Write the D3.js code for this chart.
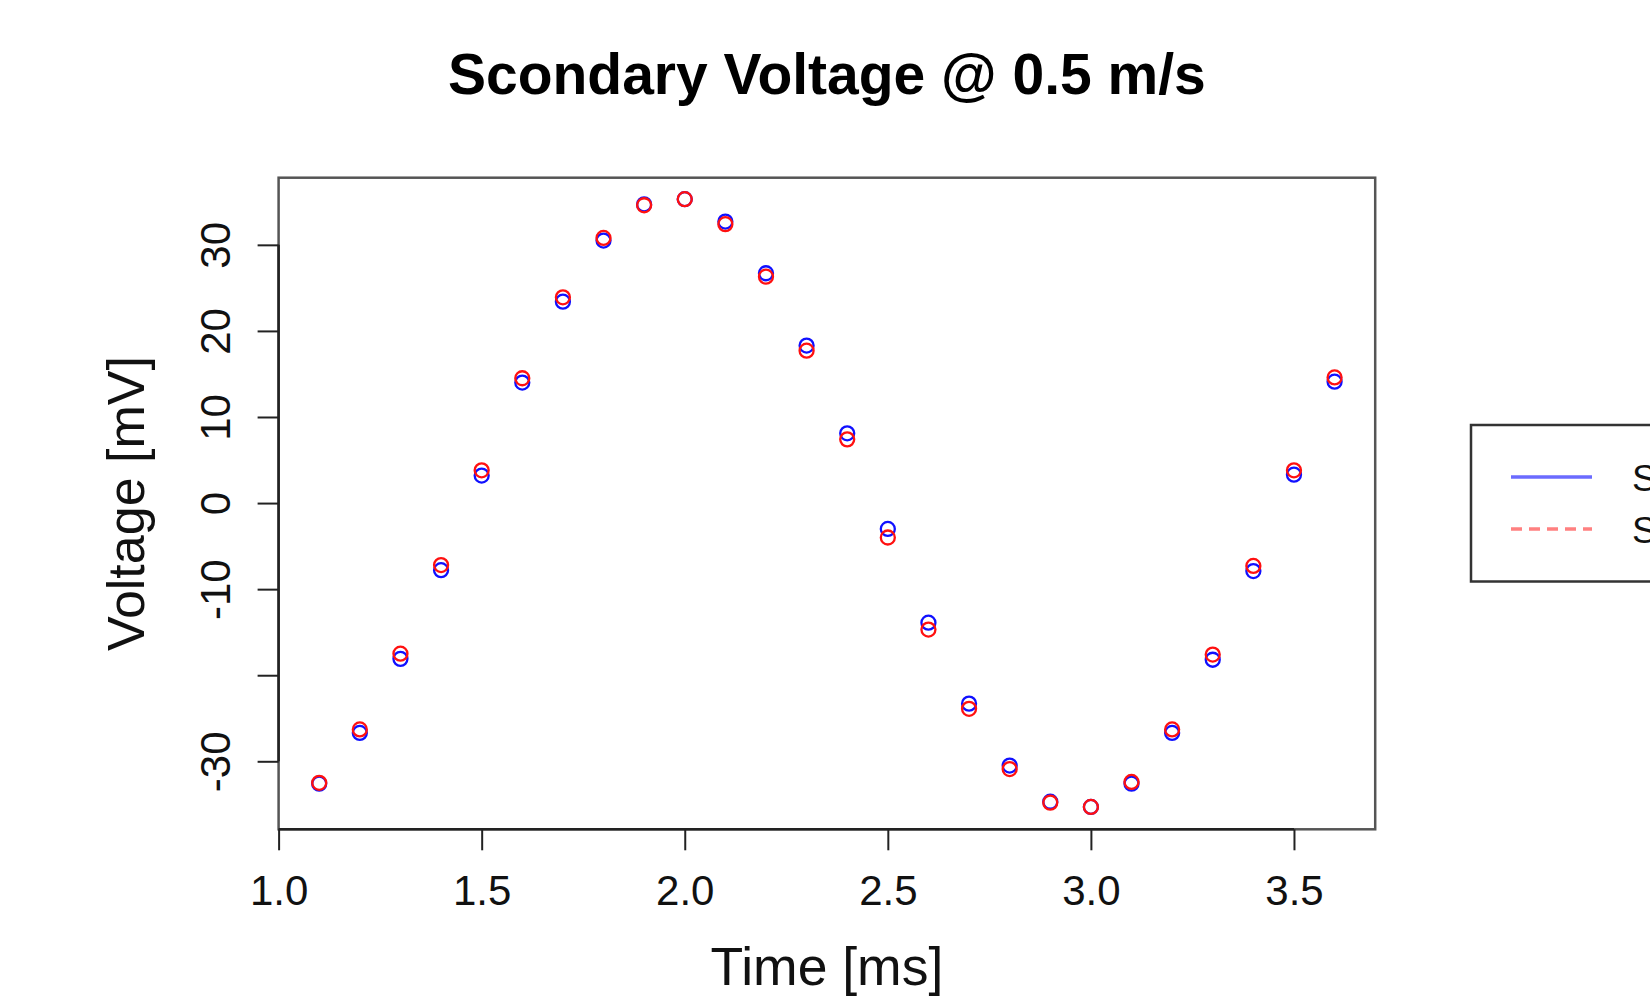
<!DOCTYPE html>
<html>
<head>
<meta charset="utf-8">
<script src="https://cdn.jsdelivr.net/npm/d3@7/dist/d3.min.js"></script>
<style>
  html, body { margin: 0; padding: 0; background: #fff; overflow: hidden; }
  svg { display: block; font-family: "Liberation Sans", Arial, Helvetica, sans-serif; }
</style>
</head>
<body>
<div id="chart"></div>
<script>
// Time axis (ms)
const times = [1.1, 1.2, 1.3, 1.4, 1.5, 1.6, 1.7, 1.8, 1.9, 2.0, 2.1, 2.2, 2.3,
               2.4, 2.5, 2.6, 2.7, 2.8, 2.9, 3.0, 3.1, 3.2, 3.3, 3.4, 3.5, 3.6];

// Voltage series (mV)
const blueSeries = [-32.6, -26.7, -18.1, -7.8, 3.2, 14.0, 23.4, 30.5, 34.7, 35.3, 32.7, 26.7, 18.3,
                    8.1, -3.0, -13.9, -23.3, -30.5, -34.7, -35.3, -32.6, -26.7, -18.2, -7.9, 3.3, 14.1];
const redSeries  = [-32.5, -26.3, -17.5, -7.2, 3.8, 14.5, 23.9, 30.8, 34.6, 35.3, 32.4, 26.3, 17.7,
                    7.4, -4.0, -14.7, -23.9, -30.9, -34.8, -35.3, -32.4, -26.3, -17.6, -7.3, 3.8, 14.6];

// Axis ticks
const xTicks = [1.0, 1.5, 2.0, 2.5, 3.0, 3.5];
const yTicks = [-30, -20, -10, 0, 10, 20, 30];
const yTickLabels = ['-30', '', '-10', '0', '10', '20', '30'];
const xDomain = [1.0, 3.7];
const yDomain = [-37.9, 37.8];

// Legend entries (text runs off the right edge in the original)
const legendLabels = ['Simulated', 'Sensor'];

const width = 1650, height = 998;
const plot = {left: 278.6, right: 1375.2, top: 177.7, bottom: 829.3};

const svg = d3.select('#chart')
    .append('svg')
    .attr('width', width)
    .attr('height', height);

const x = d3.scaleLinear().domain(xDomain).range([plot.left, plot.right]);
const y = d3.scaleLinear().domain(yDomain).range([plot.bottom, plot.top]);

// Title
svg.append('text')
    .attr('x', (plot.left + plot.right) / 2)
    .attr('y', 94)
    .attr('text-anchor', 'middle')
    .attr('font-size', 57)
    .attr('font-weight', 'bold')
    .text('Scondary Voltage @ 0.5 m/s');

// Plot box
svg.append('rect')
    .attr('x', plot.left)
    .attr('y', plot.top)
    .attr('width', plot.right - plot.left)
    .attr('height', plot.bottom - plot.top)
    .attr('fill', 'none')
    .attr('stroke', '#555')
    .attr('stroke-width', 2.5);

// X axis
const xAxis = svg.append('g')
    .attr('transform', `translate(0,${plot.bottom})`)
    .call(d3.axisBottom(x).tickValues(xTicks).tickFormat(d3.format('.1f')).tickSize(21));
xAxis.select('.domain').remove();
xAxis.selectAll('.tick line').attr('stroke', '#222').attr('stroke-width', 2);
xAxis.selectAll('.tick text')
    .attr('y', 76).attr('dy', null)
    .attr('font-size', 42)
    .attr('font-family', '"Liberation Sans", Arial, sans-serif')
    .attr('fill', '#111');
xAxis.append('line')
    .attr('x1', x(xTicks[0])).attr('x2', x(xTicks[xTicks.length - 1]))
    .attr('y1', 0).attr('y2', 0)
    .attr('stroke', '#222').attr('stroke-width', 2.5);

// Y axis
const yAxis = svg.append('g')
    .attr('transform', `translate(${plot.left},0)`)
    .call(d3.axisLeft(y).tickValues(yTicks).tickFormat((d, i) => yTickLabels[i]).tickSize(21));
yAxis.select('.domain').remove();
yAxis.selectAll('.tick line').attr('stroke', '#222').attr('stroke-width', 2);
yAxis.selectAll('.tick text')
    .attr('x', null).attr('dy', null)
    .attr('transform', 'translate(-48.5,0) rotate(-90)')
    .attr('text-anchor', 'middle')
    .attr('font-size', 42)
    .attr('font-family', '"Liberation Sans", Arial, sans-serif')
    .attr('fill', '#111');
yAxis.append('line')
    .attr('y1', y(yTicks[0])).attr('y2', y(yTicks[yTicks.length - 1]))
    .attr('x1', 0).attr('x2', 0)
    .attr('stroke', '#222').attr('stroke-width', 2.5);

// Axis titles
svg.append('text')
    .attr('x', (plot.left + plot.right) / 2)
    .attr('y', 985)
    .attr('text-anchor', 'middle')
    .attr('font-size', 53.5)
    .attr('fill', '#111')
    .text('Time [ms]');

svg.append('text')
    .attr('transform', `translate(144,${(plot.top + plot.bottom) / 2}) rotate(-90)`)
    .attr('text-anchor', 'middle')
    .attr('font-size', 52)
    .attr('fill', '#111')
    .text('Voltage [mV]');

// Points: blue first, red on top
function drawPoints(values, color) {
    svg.append('g')
        .selectAll('circle')
        .data(values)
        .enter()
        .append('circle')
        .attr('cx', (d, i) => x(times[i]))
        .attr('cy', d => y(d))
        .attr('r', 7)
        .attr('fill', 'none')
        .attr('stroke', color)
        .attr('stroke-width', 2.3);
}
drawPoints(blueSeries, '#1010ff');
drawPoints(redSeries, '#ff1010');

// Legend (cut off by the right edge, as in the original)
const legend = svg.append('g');
legend.append('rect')
    .attr('x', 1471).attr('y', 425)
    .attr('width', 260).attr('height', 156.5)
    .attr('fill', '#fff')
    .attr('stroke', '#333')
    .attr('stroke-width', 2.5);

const legendStyles = [
    {color: '#6b6bff', dash: null, y: 477},
    {color: '#ff8080', dash: '11,7', y: 529}
];
legendStyles.forEach((s, i) => {
    legend.append('line')
        .attr('x1', 1511).attr('x2', 1592)
        .attr('y1', s.y).attr('y2', s.y)
        .attr('stroke', s.color)
        .attr('stroke-width', 3.5)
        .attr('stroke-dasharray', s.dash);
    legend.append('text')
        .attr('x', 1632)
        .attr('y', s.y + 14)
        .attr('font-size', 37)
        .attr('fill', '#111')
        .text(legendLabels[i]);
});
</script>
</body>
</html>
